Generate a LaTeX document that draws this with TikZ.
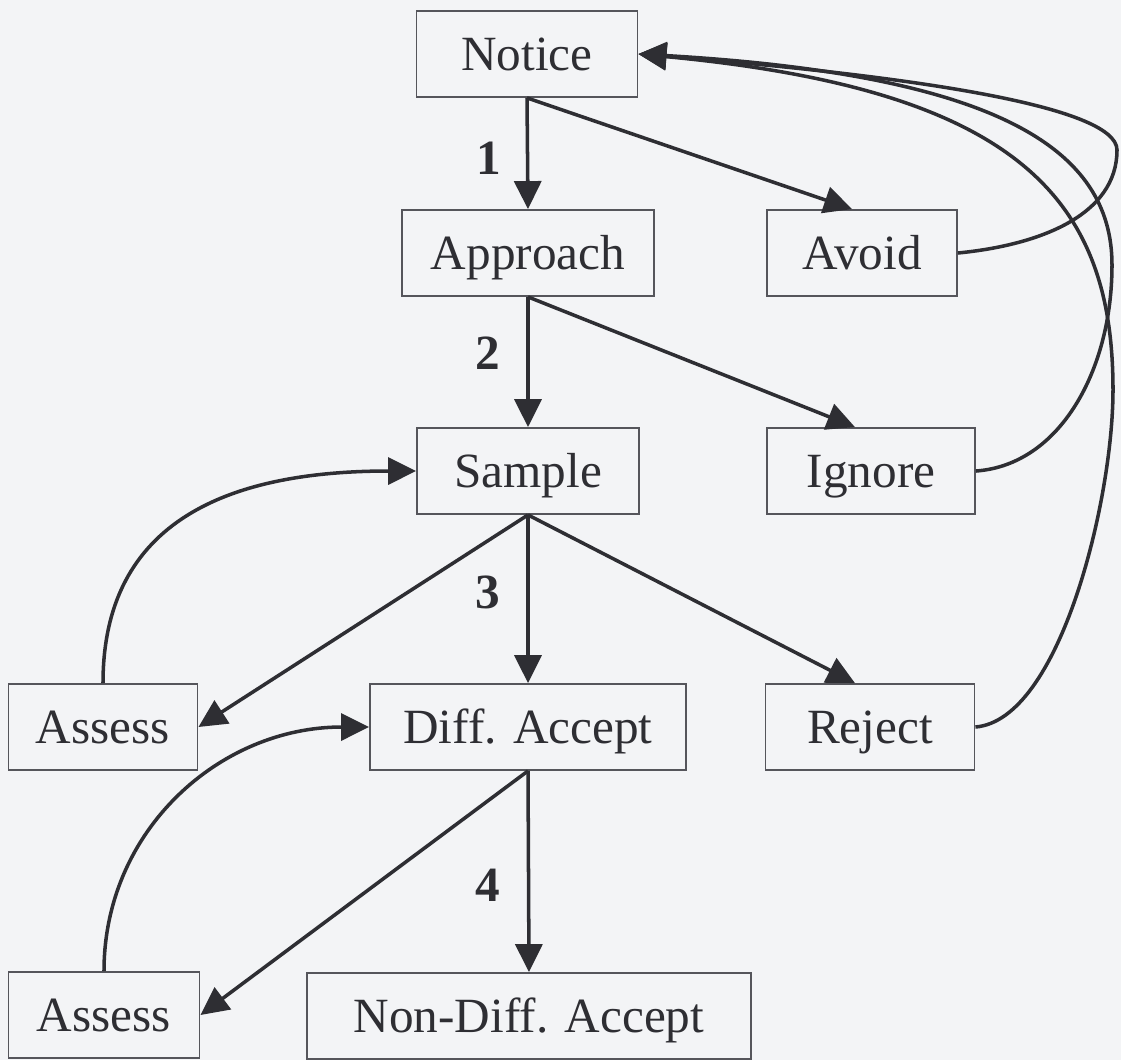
\documentclass[tikz,border=0pt]{standalone}
\usepackage{fontspec}
\setmainfont{Liberation Serif}
\usetikzlibrary{arrows.meta}

\definecolor{ink}{HTML}{2E2E33}
\definecolor{paper}{HTML}{F3F4F6}
\definecolor{frame}{HTML}{55555B}

\begin{document}
\begin{tikzpicture}[x=0.01cm, y=-0.01cm, >={Triangle[length=2.8mm, width=2.7mm]},
  block/.style={draw=frame, line width=0.5pt, text=ink, minimum height=0.86cm, inner sep=0pt,
    text height=0.33cm, text depth=0cm, font=\fontsize{14}{16}\selectfont},
  num/.style={text=ink, font=\fontsize{14}{16}\selectfont\bfseries},
  link/.style={->, draw=ink, line width=1pt}]

  \useasboundingbox[fill=paper] (0,0) rectangle (1121,1060);

  % Centre column
  \node[block, minimum width=2.21cm] (N) at (527,54) {Notice};
  \node[block, minimum width=2.52cm] (Ap) at (528,253) {Approach};
  \node[block, minimum width=2.22cm] (S) at (528,471) {Sample};
  \node[block, minimum width=3.16cm] (D) at (528,727) {Diff. Accept};
  \node[block, minimum width=4.44cm] (ND) at (529,1016) {Non-Diff. Accept};

  % Right column
  \node[block, minimum width=1.90cm] (Av) at (862,253) {Avoid};
  \node[block, minimum width=2.08cm] (Ig) at (871,471) {Ignore};
  \node[block, minimum width=2.09cm] (Rj) at (870,727) {Reject};

  % Left column
  \node[block, minimum width=1.89cm] (As1) at (103,727) {Assess};
  \node[block, minimum width=1.91cm] (As2) at (104,1015) {Assess};

  % Step numbers
  \node[num] (n1) at (489,158) {1};
  \node[num] (n2) at (488,353) {2};
  \node[num] (n3) at (488,592) {3};
  \node[num] (n4) at (488,885) {4};

  % Downward arrows
  \draw[link] (N.south) -- (Ap.north);
  \draw[link] (Ap.south) -- (S.north);
  \draw[link] (S.south) -- (D.north);
  \draw[link] (D.south) -- (ND.north);

  % Diagonal arrows
  \draw[link] (N.south) -- ([xshift=-0.1cm]Av.north);
  \draw[link] (Ap.south) -- ([xshift=-0.16cm]Ig.north);
  \draw[link] (S.south) -- ([xshift=-0.15cm]Rj.north);
  \draw[link] (S.south) -- (As1.east);
  \draw[link] (D.south) -- (As2.east);

  % Loops back from assess
  \draw[link] (As1.north) .. controls (103,520) and (230,471) .. (S.west);
  \draw[link] (As2.north) .. controls (104,830) and (220,727) .. (D.west);

  % Loops back to notice
  \draw[link] (Av.east) .. controls (1040,245) and (1117,215) .. (1117,150)
    .. controls (1117,105) and (900,75) .. (N.east);
  \draw[link] (Ig.east) .. controls (1060,465) and (1112,370) .. (1112,265)
    .. controls (1112,150) and (1000,75) .. (N.east);
  \draw[link] (Rj.east) .. controls (1060,720) and (1113,500) .. (1113,390)
    .. controls (1113,200) and (1020,90) .. (N.east);

\end{tikzpicture}
\end{document}
